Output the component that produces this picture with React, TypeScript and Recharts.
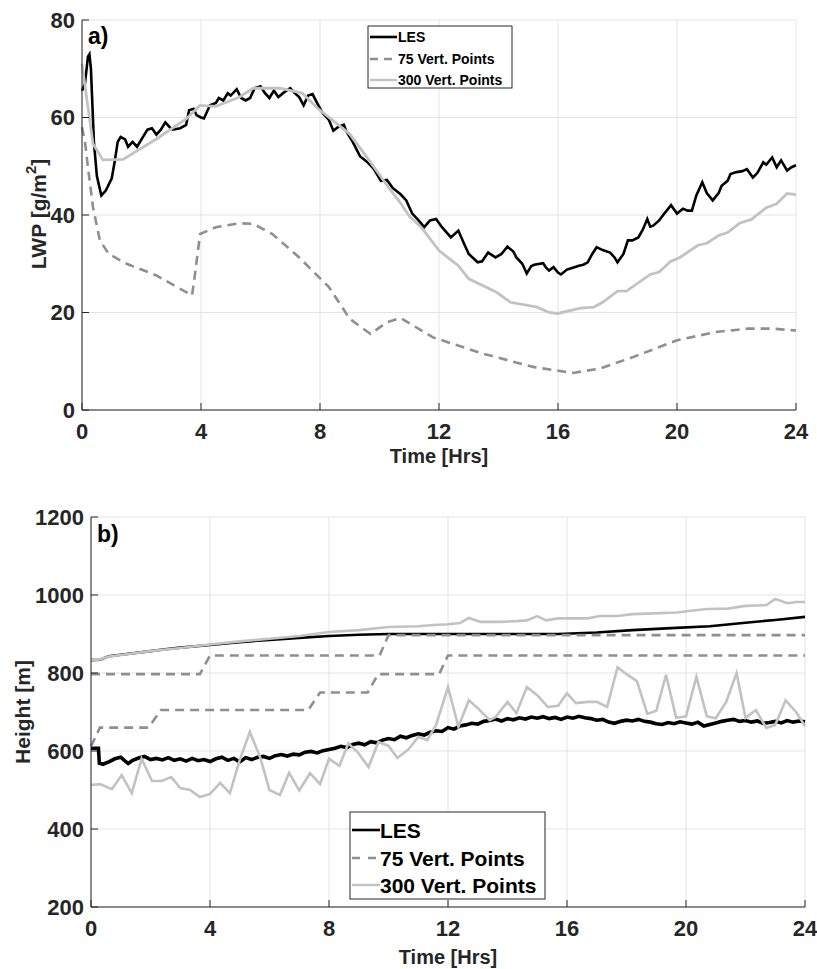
import React from 'react';
import { LineChart, Line, XAxis, YAxis, CartesianGrid } from 'recharts';

// ---------- Panel a) LWP ----------
const lwpLesT = [0, 0.1, 0.2, 0.25, 0.3, 0.4, 0.5, 0.65, 0.8, 1.0, 1.1, 1.2, 1.3, 1.45, 1.55, 1.7, 1.85, 2.0, 2.2, 2.35, 2.5, 2.65, 2.8, 2.95, 3.05, 3.3, 3.5, 3.6, 3.75, 3.85, 4.0, 4.1, 4.3, 4.5, 4.6, 4.75, 4.9, 5.0, 5.2, 5.35, 5.5, 5.65, 5.8, 6.0, 6.15, 6.3, 6.45, 6.6, 6.8, 7.0, 7.15, 7.3, 7.45, 7.6, 7.75, 7.9, 8.1, 8.3, 8.45, 8.6, 8.8, 8.9, 9.1, 9.35, 9.6, 9.8, 10.05, 10.25, 10.45, 10.7, 10.9, 11.1, 11.3, 11.5, 11.7, 11.9, 12.1, 12.4, 12.65, 12.85, 13.0, 13.3, 13.45, 13.65, 13.9, 14.1, 14.3, 14.5, 14.6, 14.8, 14.95, 15.1, 15.2, 15.5, 15.6, 15.7, 15.85, 16.0, 16.1, 16.3, 16.5, 16.7, 16.85, 17.0, 17.15, 17.3, 17.5, 17.75, 17.9, 18.0, 18.2, 18.35, 18.5, 18.7, 18.85, 19.0, 19.1, 19.2, 19.4, 19.6, 19.8, 20.0, 20.2, 20.35, 20.5, 20.65, 20.85, 21.0, 21.2, 21.4, 21.5, 21.7, 21.8, 22.0, 22.2, 22.35, 22.55, 22.7, 22.9, 23.0, 23.2, 23.35, 23.5, 23.7, 23.85, 24.0];
const lwpLesV = [65.5, 67, 72.5, 73, 70, 55, 48, 44, 45, 47.5, 51, 55, 56, 55.5, 54, 55, 54, 55.5, 57.5, 57.8, 56.5, 57.5, 59, 58, 57.5, 57.8, 58.5, 61.5, 61.8, 60.5, 60, 59.8, 62.5, 63, 64, 63.5, 65, 64.5, 65.8, 64, 63.5, 64, 66, 66.4, 65, 64, 65.5, 64.2, 65.2, 66, 65, 64.2, 62.5, 64.5, 64.8, 63, 60.8, 59.5, 57.3, 58, 58.5, 57, 55, 52, 50.8, 49.5, 47, 47.2, 45.5, 44.3, 43, 40.3, 39, 37.5, 38.9, 39.2, 37.5, 35.4, 36.8, 34, 32, 30.3, 30.5, 32.3, 31.3, 32, 33.5, 32.5, 31.3, 30, 28, 29.5, 29.8, 30.1, 29.2, 28.6, 29.3, 28.2, 27.8, 28.8, 29.2, 29.6, 29.8, 30.3, 32, 33.4, 32.8, 32.3, 31.3, 30.3, 32, 34.8, 34.8, 35.4, 37, 39.2, 37.6, 37.8, 38.9, 40.5, 42, 40.3, 41.3, 40.9, 40.9, 44, 46.7, 44.5, 43, 44.5, 46, 47, 48.4, 48.8, 49, 49.4, 47.7, 48.6, 50.8, 50.3, 51.8, 49.8, 51.2, 49.1, 49.8, 50.2];

const lwp75T = [0, 0.1, 0.2, 0.37, 0.6, 0.9, 1.5, 2.5, 3.7, 3.8, 3.97, 4.5, 5.3, 5.75, 6.4, 7.3, 8.3, 9.0, 9.7, 10.25, 10.7, 11.8, 13.5, 15.2, 16.5, 17.4, 18.5, 20.0, 21.3, 22.4, 23.2, 24];
const lwp75V = [58, 55, 49.8, 41.6, 34.8, 32, 30, 27.6, 23.5, 28, 36.1, 37.5, 38.3, 38.2, 36.1, 31.3, 25.2, 18.7, 15.6, 18, 18.9, 14.9, 11.5, 8.8, 7.6, 8.5, 10.8, 14.3, 16, 16.7, 16.7, 16.3];

const lwp300T = [0, 0.37, 0.7, 1.38, 2.5, 3.5, 3.97, 4.5, 5.3, 5.75, 6.65, 7.4, 7.9, 9.0, 9.7, 10.3, 10.7, 11.0, 11.4, 12.0, 12.65, 13.0, 13.95, 14.4, 15.3, 15.7, 16.0, 16.75, 17.2, 17.5, 18.0, 18.3, 19.1, 19.4, 19.77, 20.1, 20.7, 21.0, 21.4, 21.7, 22.1, 22.5, 23.0, 23.35, 23.7, 24];
const lwp300V = [71, 54.6, 51.3, 51.4, 55.6, 59.7, 62.5, 62.3, 64.2, 66, 66, 65, 62, 56.6, 50.8, 45.7, 42.5, 39.8, 37.5, 32.7, 29.6, 26.9, 24.1, 22.1, 21.1, 20, 19.8, 20.9, 21.1, 22.1, 24.4, 24.4, 27.8, 28.3, 30.4, 31.3, 33.8, 34.2, 35.8, 36.4, 38.3, 39.1, 41.5, 42.3, 44.4, 44.2];

// ---------- Panel b) Height ----------
const topLesT = [0, 0.3, 0.6, 1.0, 2.0, 2.5, 3.0, 4.0, 5.0, 6.0, 7.0, 8.0, 9.0, 10.0, 12.0, 14.0, 15.7, 17.0, 18.2, 19.5, 20.8, 22.0, 23.0, 24.0];
const topLesV = [833, 834, 843, 847, 856, 861, 865, 872, 879, 885, 890, 895, 898, 900, 900, 900, 900, 904, 910, 915, 920, 929, 936, 944];

const top300T = [0, 0.3, 0.6, 1.0, 2.0, 3.0, 4.0, 5.0, 6.0, 7.0, 8.0, 9.0, 10.0, 11.0, 11.5, 12.0, 12.4, 12.7, 13.1, 13.75, 14.3, 14.65, 15.0, 15.3, 15.7, 16.7, 17.1, 17.7, 18.2, 18.9, 19.7, 20.1, 20.7, 21.4, 22.0, 22.7, 23.0, 23.4, 23.7, 24];
const top300V = [833, 835, 842, 846, 856, 864, 873, 881, 888, 895, 905, 910, 918, 920, 923, 925, 928, 941, 931, 931, 933, 935, 946, 935, 940, 940, 946, 946, 951, 953, 955, 959, 964, 965, 972, 974, 990, 979, 982, 982];

const top75T = [0, 3.66, 4.0, 9.7, 10.0, 24];
const top75V = [797, 797, 845, 845, 897, 897];

const base75T = [0, 0.3, 1.93, 2.35, 7.3, 7.7, 9.3, 9.65, 11.7, 12.0, 24];
const base75V = [612, 660, 660, 705, 705, 750, 750, 797, 797, 845, 845];

const baseLesT = [0, 0.25, 0.28, 0.4, 0.6, 0.8, 1.0, 1.15, 1.25, 1.4, 1.6, 1.8, 2.0, 2.2, 2.4, 2.6, 2.8, 3.0, 3.2, 3.4, 3.6, 3.8, 4.0, 4.2, 4.4, 4.6, 4.8, 5.0, 5.2, 5.4, 5.6, 5.8, 6.0, 6.2, 6.4, 6.6, 6.8, 7.0, 7.2, 7.4, 7.6, 7.8, 8.0, 8.2, 8.4, 8.6, 8.8, 9.0, 9.2, 9.4, 9.6, 9.8, 10.0, 10.2, 10.4, 10.6, 10.8, 11.0, 11.2, 11.4, 11.6, 11.8, 12.0, 12.2, 12.4, 12.6, 12.8, 13.0, 13.2, 13.4, 13.6, 13.8, 14.0, 14.2, 14.4, 14.6, 14.8, 15.0, 15.2, 15.4, 15.6, 15.8, 16.0, 16.2, 16.4, 16.6, 16.8, 17.0, 17.2, 17.4, 17.6, 17.8, 18.0, 18.2, 18.4, 18.6, 18.8, 19.0, 19.2, 19.4, 19.6, 19.8, 20.0, 20.2, 20.4, 20.6, 20.8, 21.0, 21.2, 21.4, 21.6, 21.8, 22.0, 22.2, 22.4, 22.6, 22.8, 23.0, 23.2, 23.4, 23.6, 23.8, 24.0];
const baseLesV = [607, 607, 569, 566, 572, 580, 584, 574, 568, 576, 582, 586, 578, 581, 577, 583, 576, 580, 574, 581, 575, 578, 573, 580, 584, 576, 581, 572, 583, 578, 584, 586, 581, 588, 591, 587, 592, 590, 597, 599, 595, 601, 604, 607, 612, 609, 617, 620, 616, 624, 621, 628, 632, 629, 638, 634, 640, 644, 641, 648, 652, 650, 660, 656, 664, 667, 671, 669, 676, 678, 682, 677, 683, 680, 685, 682, 687, 684, 688, 683, 686, 681, 687, 684, 689, 685, 683, 679, 681, 674, 671, 676, 679, 677, 681, 676, 674, 670, 668, 673, 670, 675, 672, 669, 674, 664, 668, 672, 676, 679, 681, 676, 678, 674, 677, 671, 673, 676, 672, 678, 674, 677, 675];

const base300T = [0, 0.3, 0.7, 1.03, 1.37, 1.7, 2.05, 2.38, 2.7, 3.0, 3.33, 3.66, 4.0, 4.34, 4.67, 5.0, 5.34, 5.68, 6.0, 6.35, 6.66, 7.0, 7.36, 7.7, 8.0, 8.35, 8.65, 8.98, 9.33, 9.66, 10.0, 10.3, 10.67, 11.0, 11.3, 11.6, 12.0, 12.35, 12.7, 13.0, 13.4, 13.6, 14.0, 14.3, 14.65, 15.0, 15.35, 15.7, 16.0, 16.3, 16.7, 17.0, 17.35, 17.7, 18.0, 18.35, 18.7, 19.0, 19.33, 19.67, 20.0, 20.35, 20.7, 21.0, 21.35, 21.7, 22.0, 22.35, 22.7, 23.0, 23.35, 23.7, 24];
const base300V = [513, 515, 502, 538, 492, 580, 523, 523, 533, 505, 500, 482, 490, 518, 492, 577, 649, 585, 500, 487, 544, 499, 543, 515, 580, 562, 620, 595, 559, 623, 613, 582, 604, 636, 628, 667, 764, 662, 730, 710, 679, 687, 726, 697, 764, 743, 713, 716, 748, 723, 726, 726, 713, 815, 797, 779, 695, 703, 795, 685, 689, 790, 689, 684, 726, 800, 685, 705, 659, 667, 730, 700, 664];

const xTicks = [0, 4, 8, 12, 16, 20, 24];
const lwpTicks = [0, 20, 40, 60, 80];
const hTicks = [200, 400, 600, 800, 1000, 1200];
const seriesNames = ['LES', '75 Vert. Points', '300 Vert. Points'];
const axisTitles = { time: 'Time [Hrs]', lwp: 'LWP [g/m', height: 'Height [m]' };

const zip = (t: number[], v: number[]) => t.map((x, i) => ({ t: x, v: v[i] }));

const AX = '#262626';
const GRID = '#e3e3e3';
const FONT = '"Liberation Sans", Arial, Helvetica, sans-serif';
const C_LES = '#000000';
const C_75 = '#8f8f8f';
const C_300 = '#c2c2c2';
const TL = 7;

const BottomTick = (p: any) => (
  <g>
    <line x1={p.x} x2={p.x} y1={p.y} y2={p.y - TL} stroke={AX} strokeWidth={1} />
    <text x={p.x} y={p.y + 21} textAnchor="middle" dominantBaseline="central" fill={AX} fontSize={22} fontWeight="bold" fontFamily={FONT}>{p.payload.value}</text>
  </g>
);
const TopTick = (p: any) => (
  <line x1={p.x} x2={p.x} y1={p.y} y2={p.y + TL} stroke={AX} strokeWidth={1} />
);
const LeftTick = (p: any) => (
  <g>
    <line x1={p.x} x2={p.x + TL} y1={p.y} y2={p.y} stroke={AX} strokeWidth={1} />
    <text x={p.x - 7} y={p.y} textAnchor="end" dominantBaseline="central" fill={AX} fontSize={22} fontWeight="bold" fontFamily={FONT}>{p.payload.value}</text>
  </g>
);
const RightTick = (p: any) => (
  <line x1={p.x} x2={p.x - TL} y1={p.y} y2={p.y} stroke={AX} strokeWidth={1} />
);

function Axes({ yDomain, yTicks, xH, yW }: { yDomain: number[]; yTicks: number[]; xH: number; yW: number }) {
  return null;
}

const Panel = ({ width, height, margin, xH, yW, yDomain, yTicks, children }: any) => (
  <LineChart width={width} height={height} margin={margin}>
    <CartesianGrid stroke={GRID} strokeWidth={1} horizontal vertical />
    <XAxis dataKey="t" type="number" domain={[0, 24]} ticks={xTicks} interval={0} height={xH}
      tickSize={0} tickMargin={0} tickLine={false} tick={<BottomTick />} axisLine={{ stroke: AX, strokeWidth: 1 }} />
    <XAxis xAxisId="top" orientation="top" type="number" domain={[0, 24]} ticks={xTicks} interval={0} height={0}
      tickSize={0} tickMargin={0} tickLine={false} tick={<TopTick />} axisLine={{ stroke: AX, strokeWidth: 1 }} />
    <YAxis dataKey="v" type="number" domain={yDomain} ticks={yTicks} interval={0} width={yW}
      tickSize={0} tickMargin={0} tickLine={false} tick={<LeftTick />} axisLine={{ stroke: AX, strokeWidth: 1 }} />
    <YAxis yAxisId="right" orientation="right" type="number" domain={yDomain} ticks={yTicks} interval={0} width={0}
      tickSize={0} tickMargin={0} tickLine={false} tick={<RightTick />} axisLine={{ stroke: AX, strokeWidth: 1 }} />
    {children}
  </LineChart>
);

const LegendBox = ({ x, y, w, h, rows, fs, lineX1, lineX2, textX, dash }: any) => (
  <g>
    <rect x={x} y={y} width={w} height={h} fill="#ffffff" stroke={AX} strokeWidth={1} />
    {seriesNames.map((name, i) => {
      const cy = rows[i];
      const color = i === 0 ? C_LES : i === 1 ? C_75 : C_300;
      return (
        <g key={name}>
          <line x1={lineX1} x2={lineX2} y1={cy} y2={cy} stroke={color} strokeWidth={i === 0 ? 2.6 : 2.4}
            strokeDasharray={i === 1 ? dash : undefined} />
          <text x={textX} y={cy} dominantBaseline="central" fill="#000" fontSize={fs} fontWeight="bold" fontFamily={FONT}>{name}</text>
        </g>
      );
    })}
  </g>
);

export default function App() {
  return (
    <div style={{ position: 'absolute', left: 0, top: 0, width: 817, height: 969, background: '#fff' }}>
      <div style={{ position: 'absolute', left: 0, top: 0 }}>
        <Panel width={817} height={480} margin={{ top: 20, right: 21, bottom: 0, left: 0 }} xH={70} yW={82} yDomain={[0, 80]} yTicks={lwpTicks}>
          <Line data={zip(lwpLesT, lwpLesV)} dataKey="v" type="linear" stroke={C_LES} strokeWidth={2.6} dot={false} isAnimationActive={false} />
          <Line data={zip(lwp75T, lwp75V)} dataKey="v" type="linear" stroke={C_75} strokeWidth={2.6} strokeDasharray="9 6" dot={false} isAnimationActive={false} />
          <Line data={zip(lwp300T, lwp300V)} dataKey="v" type="linear" stroke={C_300} strokeWidth={2.8} dot={false} isAnimationActive={false} />
        </Panel>
      </div>
      <div style={{ position: 'absolute', left: 0, top: 480 }}>
        <Panel width={817} height={489} margin={{ top: 37, right: 12, bottom: 0, left: 0 }} xH={62} yW={91} yDomain={[200, 1200]} yTicks={hTicks}>
          <Line data={zip(topLesT, topLesV)} dataKey="v" type="linear" stroke={C_LES} strokeWidth={2.6} dot={false} isAnimationActive={false} />
          <Line data={zip(baseLesT, baseLesV)} dataKey="v" type="linear" stroke={C_LES} strokeWidth={3.6} dot={false} isAnimationActive={false} />
          <Line data={zip(top75T, top75V)} dataKey="v" type="linear" stroke={C_75} strokeWidth={2.6} strokeDasharray="9 6" dot={false} isAnimationActive={false} />
          <Line data={zip(base75T, base75V)} dataKey="v" type="linear" stroke={C_75} strokeWidth={2.6} strokeDasharray="9 6" dot={false} isAnimationActive={false} />
          <Line data={zip(top300T, top300V)} dataKey="v" type="linear" stroke={C_300} strokeWidth={2.6} dot={false} isAnimationActive={false} />
          <Line data={zip(base300T, base300V)} dataKey="v" type="linear" stroke={C_300} strokeWidth={2.6} dot={false} isAnimationActive={false} />
        </Panel>
      </div>
      <svg width={817} height={969} style={{ position: 'absolute', left: 0, top: 0, pointerEvents: 'none' }}>
        <text x={88} y={44} fill="#000" fontSize={23} fontWeight="bold" fontFamily={FONT}>a)</text>
        <text x={97} y={542} fill="#000" fontSize={23} fontWeight="bold" fontFamily={FONT}>b)</text>
        <text x={439} y={456} textAnchor="middle" dominantBaseline="central" fill={AX} fontSize={20} fontWeight="bold" fontFamily={FONT}>{axisTitles.time}</text>
        <text x={448} y={957} textAnchor="middle" dominantBaseline="central" fill={AX} fontSize={20} fontWeight="bold" fontFamily={FONT}>{axisTitles.time}</text>
        <text transform="translate(38,214) rotate(-90)" textAnchor="middle" dominantBaseline="central" fill={AX} fontSize={21} fontWeight="bold" fontFamily={FONT}>
          {axisTitles.lwp}<tspan fontSize={15} dy={-8}>2</tspan><tspan dy={8}>]</tspan>
        </text>
        <text transform="translate(22,712) rotate(-90)" textAnchor="middle" dominantBaseline="central" fill={AX} fontSize={21} fontWeight="bold" fontFamily={FONT}>{axisTitles.height}</text>
        <LegendBox x={368} y={26} w={144} h={62} rows={[37, 59, 80]} fs={14} lineX1={370} lineX2={397} textX={398} dash="8 6" />
        <LegendBox x={350} y={812} w={195} h={87} rows={[830, 858, 885]} fs={21} lineX1={352} lineX2={380} textX={380} dash="8 8" />
      </svg>
    </div>
  );
}
